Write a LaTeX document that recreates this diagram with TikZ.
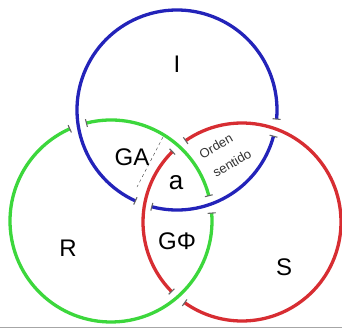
\documentclass[tikz,border=0pt]{standalone}
\usepackage{fontspec}
\setmainfont{Liberation Sans}
\definecolor{ringI}{RGB}{35,35,185}
\definecolor{ringR}{RGB}{60,215,60}
\definecolor{ringS}{RGB}{215,45,50}
\tikzset{ring/.style = {line width=3.3pt},
  gapmark/.style = {line width=1.1pt, black!60},
  big/.style = {font=\fontsize{24}{24}\selectfont},
  small/.style = {rotate=30, inner sep=1pt, black!80, font=\fontsize{13}{13}\selectfont}}

\begin{document}
\begin{tikzpicture}[x=1pt, y=-1pt]
  \useasboundingbox (0,0) rectangle (342,329);
  % each ring is broken where it passes under the next one
  \foreach \cx/\cy/\r/\col/\ga/\gb in {177/110/100/ringI/10.2/109.6,
      111/221/101/ringR/-9.5/250.9, 242/222/99/ringS/130.4/230.3}{
    \draw[ring, \col] (\cx,\cy) ++(\ga+5:\r)
      arc[start angle=\ga+5, end angle=\gb-5, radius=\r];
    \draw[ring, \col] (\cx,\cy) ++(\gb+5:\r)
      arc[start angle=\gb+5, end angle=\ga+355, radius=\r];
    \foreach \t in {\ga-5,\ga+5,\gb-5,\gb+5}
      \draw[gapmark] (\cx,\cy) ++(\t:\r) ++(\t:-4) -- ++(\t:8);
  }
  \draw[thin, dashed, black!80] (163,137) -- (137,187);
  \node[big] (labI) at (177,64) {I};
  \node[big] (labR) at (68,248) {R};
  \node[big] (labS) at (284,267) {S};
  \node[big] (labGA) at (132,157.5) {GA};
  \node[font=\fontsize{26}{26}\selectfont] (labA) at (176,183) {a};
  \node[big] (labGF) at (177,241) {GΦ};
  \node[small] (ordem) at (216,146) {Orden};
  \node[small] (sentido) at (232,163) {sentido};
  \draw[black!35] (0,327.5) -- (342,327.5);
\end{tikzpicture}
\end{document}
